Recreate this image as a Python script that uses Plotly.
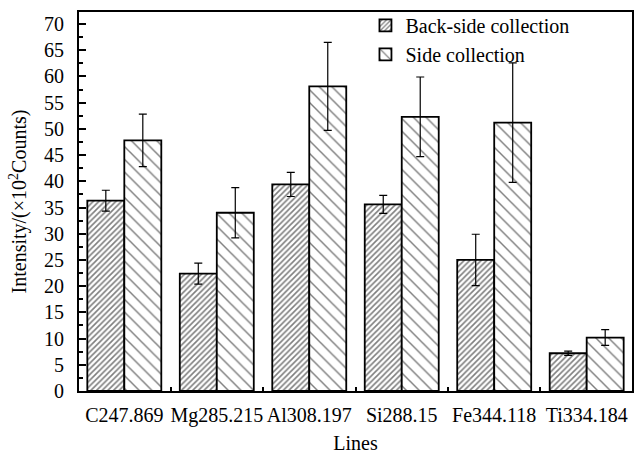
import plotly.graph_objects as go

categories = ["C247.869", "Mg285.215", "Al308.197", "Si288.15", "Fe344.118", "Ti334.184"]
back_side = [36.3, 22.4, 39.4, 35.6, 25.0, 7.2]
back_side_err = [2.0, 2.0, 2.3, 1.7, 4.9, 0.4]
side = [47.8, 34.0, 58.1, 52.3, 51.2, 10.2]
side_err = [5.0, 4.8, 8.4, 7.6, 11.4, 1.5]

FONT = "Liberation Serif"

fig = go.Figure()
fig.add_trace(go.Bar(
    x=categories, y=back_side, name="Back-side collection",
    marker=dict(color="white", line=dict(color="black", width=1.8),
                pattern=dict(shape="/", size=4, solidity=0.4, fgcolor="black", bgcolor="white")),
    error_y=dict(type="data", array=back_side_err, visible=True, color="black", thickness=1.2, width=4),
))
fig.add_trace(go.Bar(
    x=categories, y=side, name="Side collection",
    marker=dict(color="white", line=dict(color="black", width=1.8),
                pattern=dict(shape="\\", size=9, solidity=0.16, fgcolor="black", bgcolor="white")),
    error_y=dict(type="data", array=side_err, visible=True, color="black", thickness=1.2, width=4),
))

fig.update_layout(
    width=638, height=458,
    margin=dict(l=79, r=4, t=12, b=67),
    paper_bgcolor="white", plot_bgcolor="white",
    font=dict(family=FONT, size=20, color="black"),
    barmode="group", bargap=0.2, bargroupgap=0,
    showlegend=True,
    legend=dict(x=0.518, y=1.016, xanchor="left", yanchor="top",
                bgcolor="rgba(0,0,0,0)", font=dict(family=FONT, size=20, color="black"),
                traceorder="normal", itemwidth=30),
    xaxis=dict(
        type="category", range=[-0.49, 5.49],
        showline=True, linecolor="black", linewidth=2, mirror=True,
        ticks="inside", tickson="boundaries", ticklen=4, tickwidth=1.5, tickcolor="black",
        showgrid=False, zeroline=False, tickangle=0,
        tickfont=dict(family=FONT, size=20, color="black"),
        ticklabelstandoff=5,
        title=dict(text="Lines", font=dict(family=FONT, size=20, color="black"), standoff=10),
    ),
    yaxis=dict(
        range=[0, 72.3], tickmode="linear", tick0=0, dtick=5,
        showline=True, linecolor="black", linewidth=2, mirror=True,
        ticks="inside", ticklen=7, tickwidth=1.5, tickcolor="black",
        minor=dict(dtick=2.5, ticks="inside", ticklen=4, tickwidth=1.5, tickcolor="black"),
        showgrid=False, zeroline=False,
        tickfont=dict(family=FONT, size=20, color="black"),
        ticklabelstandoff=9,
        title=dict(text="Intensity/(×10<sup>2</sup>Counts)", font=dict(family=FONT, size=20, color="black"), standoff=12),
    ),
)

fig.write_html("out.html", config={"displayModeBar": False},
               post_script="document.body.style.margin='0';document.body.style.overflow='hidden';")
